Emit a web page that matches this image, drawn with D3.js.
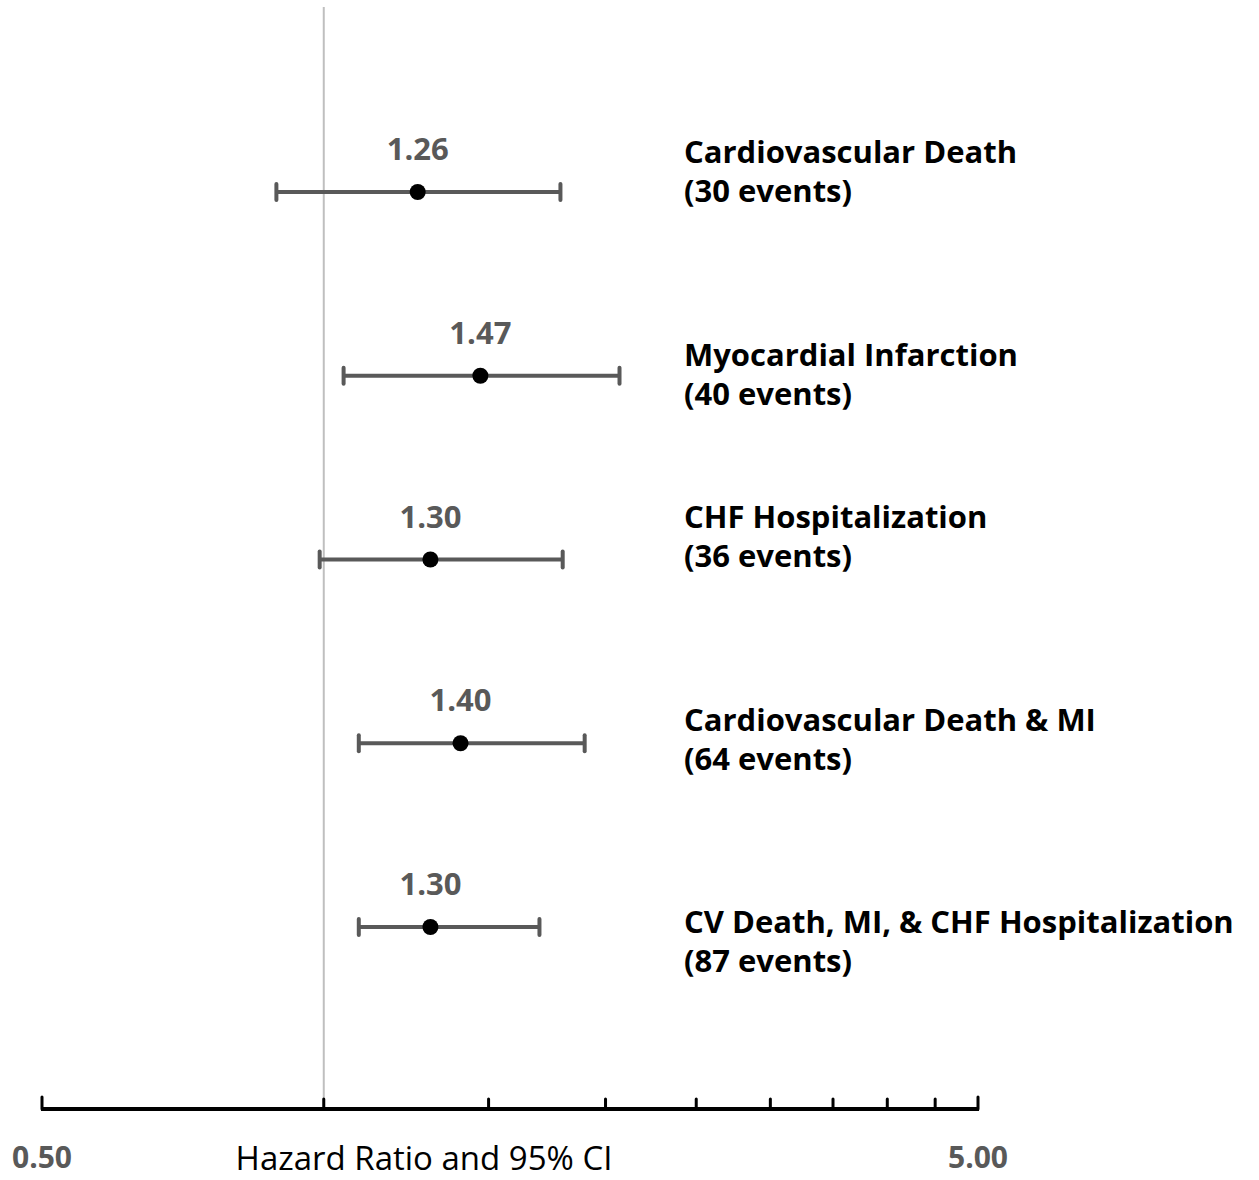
<!DOCTYPE html>
<html>
<head>
<meta charset="utf-8">
<script src="https://cdn.jsdelivr.net/npm/d3@7"></script>
<style>
  body { margin: 0; background: #fff; }
  svg { display: block; }
</style>
</head>
<body>
<div id="chart"></div>
<script>
// ---------- data ----------
const outcomes = [
    "Cardiovascular Death",
    "Myocardial Infarction",
    "CHF Hospitalization",
    "Cardiovascular Death & MI",
    "CV Death, MI, & CHF Hospitalization"
];
const events = [30, 40, 36, 64, 87];
const hazardRatio = [1.26, 1.47, 1.30, 1.40, 1.30];
const ciLow = [0.89, 1.05, 0.99, 1.09, 1.09];
const ciHigh = [1.79, 2.07, 1.80, 1.90, 1.70];
const tickValues = [0.5, 1, 1.5, 2, 2.5, 3, 3.5, 4, 4.5, 5];
const tickLabels = ["0.50", "5.00"];

// baseline of first label line relative to the point row (px), as in the figure
const labelOffsets = [-29, -10, -32, -12, 6];

const W = 1259, H = 1180;
const svg = d3.select("#chart").append("svg")
    .attr("width", W)
    .attr("height", H);

const x = d3.scaleLog().domain([0.5, 5]).range([42, 978]);
const y = d3.scalePoint().domain(outcomes).range([192, 927]);

const axisY = 1109;
const FONT = "'Open Sans', sans-serif";

// reference line at HR = 1
svg.append("line")
    .attr("x1", x(1)).attr("x2", x(1))
    .attr("y1", 7).attr("y2", axisY)
    .attr("stroke", "#bfbfbf")
    .attr("stroke-width", 2);

// axis
const axis = svg.append("g");
axis.append("line")
    .attr("x1", x(0.5) - 1).attr("x2", x(5) + 1)
    .attr("y1", axisY).attr("y2", axisY)
    .attr("stroke", "#000")
    .attr("stroke-width", 4);
axis.selectAll("line.tick")
    .data(tickValues)
    .join("line")
    .attr("class", "tick")
    .attr("x1", d => x(d)).attr("x2", d => x(d))
    .attr("y1", (d, i) => (i === 0 || i === tickValues.length - 1) ? axisY - 12 : axisY - 10)
    .attr("y2", axisY)
    .attr("stroke", "#000")
    .attr("stroke-width", 3)
    .attr("stroke-linecap", "round");

axis.selectAll("text.ticklabel")
    .data([0.5, 5])
    .join("text")
    .attr("class", "ticklabel")
    .attr("x", d => x(d))
    .attr("y", 1168)
    .attr("text-anchor", "middle")
    .attr("font-family", FONT)
    .attr("font-weight", 700)
    .attr("font-size", 30)
    .attr("fill", "#595959")
    .text((d, i) => tickLabels[i]);

svg.append("text")
    .attr("x", 424)
    .attr("y", 1170)
    .attr("text-anchor", "middle")
    .attr("font-family", FONT)
    .attr("font-size", 33)
    .attr("fill", "#000")
    .text("Hazard Ratio and 95% CI");

// rows
const rows = outcomes.map((o, i) => ({
    name: o, n: events[i], hr: hazardRatio[i], lo: ciLow[i], hi: ciHigh[i], off: labelOffsets[i]
}));

const row = svg.selectAll("g.row")
    .data(rows)
    .join("g")
    .attr("class", "row")
    .attr("transform", d => `translate(0,${y(d.name)})`);

row.append("line")
    .attr("x1", d => x(d.lo)).attr("x2", d => x(d.hi))
    .attr("y1", 0).attr("y2", 0)
    .attr("stroke", "#595959")
    .attr("stroke-width", 4);

row.selectAll("line.cap")
    .data(d => [d.lo, d.hi])
    .join("line")
    .attr("class", "cap")
    .attr("x1", d => x(d)).attr("x2", d => x(d))
    .attr("y1", -8).attr("y2", 8)
    .attr("stroke", "#595959")
    .attr("stroke-width", 4)
    .attr("stroke-linecap", "round");

row.append("circle")
    .attr("cx", d => x(d.hr))
    .attr("cy", 0)
    .attr("r", 8)
    .attr("fill", "#000");

row.append("text")
    .attr("x", d => x(d.hr))
    .attr("y", -32)
    .attr("text-anchor", "middle")
    .attr("font-family", FONT)
    .attr("font-weight", 700)
    .attr("font-size", 31)
    .attr("fill", "#595959")
    .text(d => d.hr.toFixed(2));

const lbl = row.append("text")
    .attr("font-family", FONT)
    .attr("font-weight", 700)
    .attr("font-size", 31)
    .attr("fill", "#000");
lbl.append("tspan")
    .attr("x", 684)
    .attr("y", d => d.off)
    .text(d => d.name);
lbl.append("tspan")
    .attr("x", 684)
    .attr("y", d => d.off + 39)
    .text(d => `(${d.n} events)`);
</script>
</body>
</html>
